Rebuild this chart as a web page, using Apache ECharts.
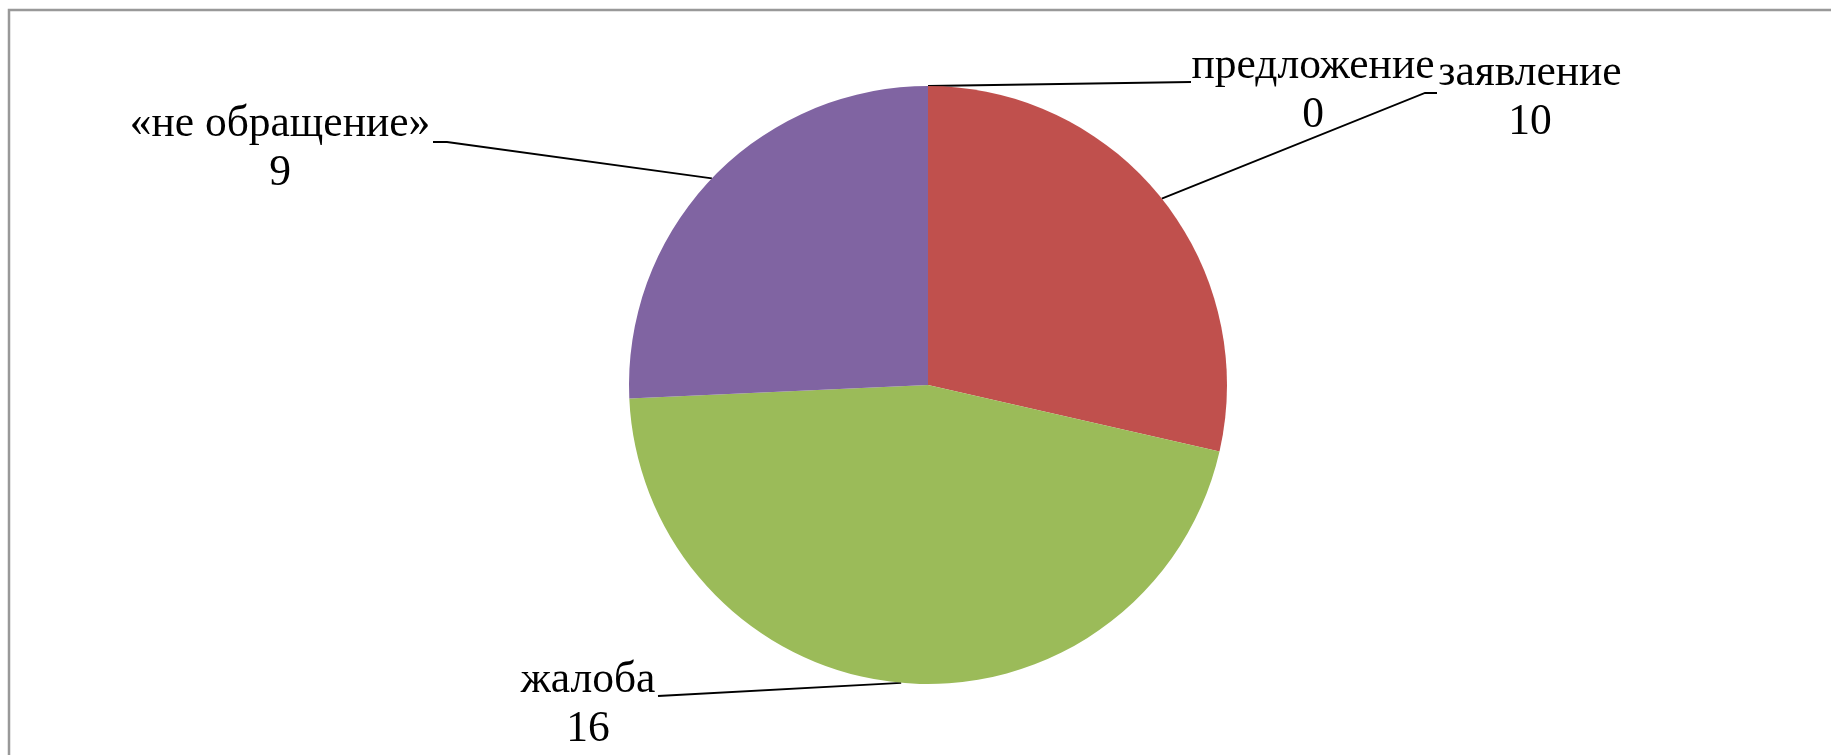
<!DOCTYPE html>
<html>
<head>
<meta charset="utf-8">
<script src="https://cdn.jsdelivr.net/npm/echarts@6/dist/echarts.min.js"></script>
<style>
html,body{margin:0;padding:0;background:#fff;}
#chart{width:1831px;height:755px;}
</style>
</head>
<body>
<div id="chart"></div>
<script>
// Data
const categories = ['предложение', 'заявление', 'жалоба', '«не обращение»'];
const values = [0, 10, 16, 9];
const colors = ['#4F81BD', '#C0504D', '#9BBB59', '#8064A2'];

// Label placement (center x, top y) and leader line end points
const labelAnchors = [
  { x: 1313, y: 42, end: [[1191, 82]] },
  { x: 1530, y: 49, end: [[1425, 93], [1437, 93]] },
  { x: 588, y: 656, end: [[658, 696]] },
  { x: 280, y: 100, end: [[447, 142], [433, 142]] }
];

const chart = echarts.init(document.getElementById('chart'));
chart.setOption({
  animation: false,
  backgroundColor: '#fff',
  graphic: [{
    type: 'rect',
    shape: { x: 9, y: 10, width: 1900, height: 800 },
    style: { fill: 'none', stroke: '#999999', lineWidth: 2.5 },
    silent: true
  }],
  series: [{
    type: 'pie',
    center: [928, 385],
    radius: 299,
    startAngle: 90,
    clockwise: true,
    avoidLabelOverlap: false,
    stillShowZeroSum: true,
    minShowLabelAngle: 0,
    data: categories.map((c, i) => ({ name: c, value: values[i], itemStyle: { color: colors[i] } })),
    label: {
      show: true,
      formatter: '{b}\n{c}',
      fontFamily: 'Liberation Serif, Times New Roman, serif',
      fontSize: 43.5,
      lineHeight: 49,
      color: '#000',
      align: 'center'
    },
    labelLine: {
      show: true,
      lineStyle: { color: '#000', width: 1.8 }
    },
    labelLayout: function (params) {
      const a = labelAnchors[params.dataIndex];
      const start = params.labelLinePoints ? params.labelLinePoints[0] : null;
      const res = { x: a.x, y: a.y, align: 'center', verticalAlign: 'top' };
      if (start) res.labelLinePoints = [start].concat(a.end);
      return res;
    }
  }]
});
</script>
</body>
</html>
